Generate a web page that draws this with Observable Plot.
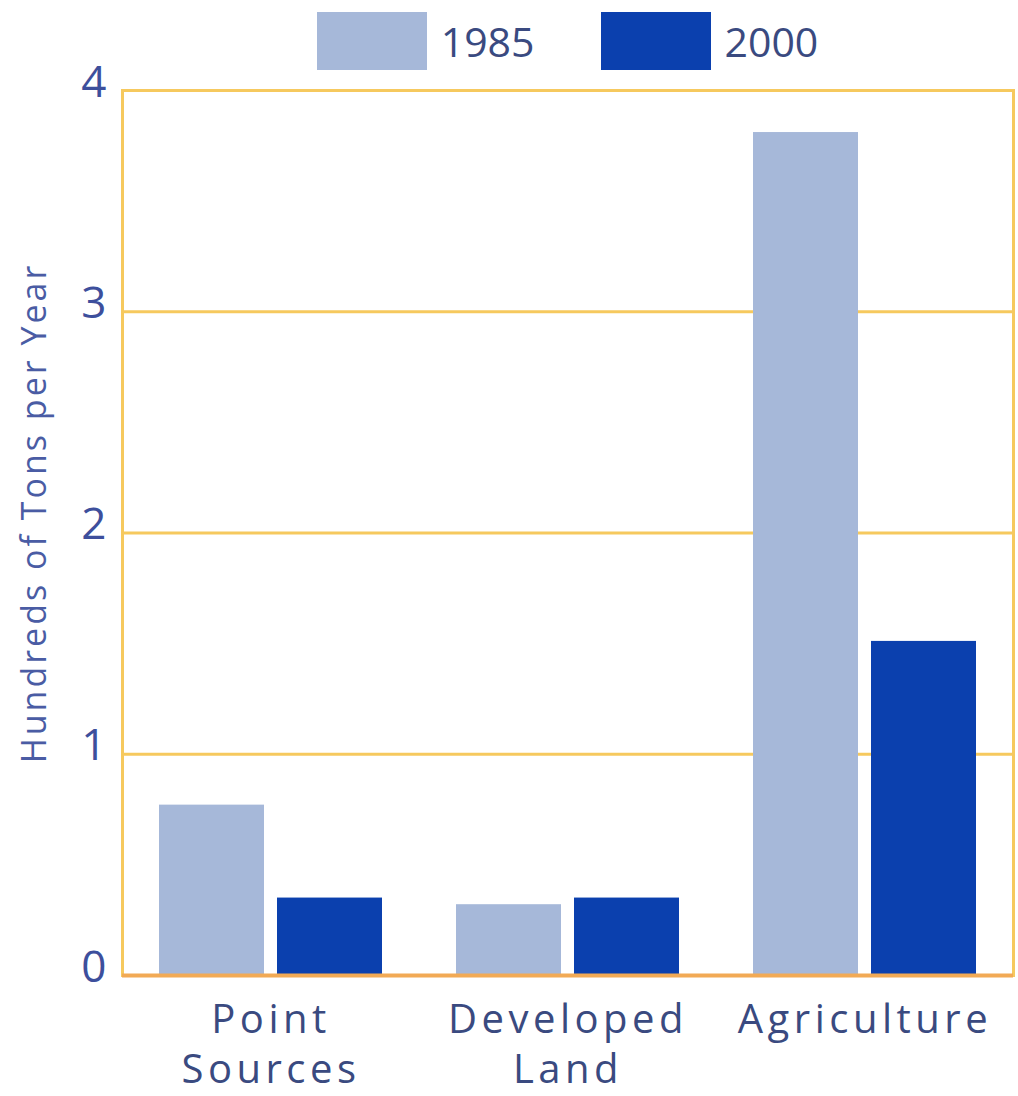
<!DOCTYPE html>
<html>
<head>
<meta charset="utf-8">
<script src="https://cdn.jsdelivr.net/npm/d3@7"></script>
<script src="https://cdn.jsdelivr.net/npm/@observablehq/plot@0.6"></script>
<style>
  html, body { margin: 0; padding: 0; background: #ffffff; }
  #wrap { position: relative; width: 1018px; height: 1096px; font-family: "Open Sans", sans-serif; }
  #legend { position: absolute; top: 12px; left: 122px; width: 891px; display: flex; justify-content: center; align-items: center; gap: 66px; }
  #legend .item { display: flex; align-items: center; }
  #legend .sw { width: 110px; height: 58px; }
  #legend .lab { margin-left: 14px; font-size: 41px; color: #3a4a80; line-height: 1; }
  .chart [aria-label="fx-axis tick label"] text { letter-spacing: 4.5px; }
  .chart .ylab text { letter-spacing: 3px; }
</style>
</head>
<body>
<div id="wrap"><div id="legend"></div></div>
<script>
// ---- data ----
const categories = ["Point Sources", "Developed Land", "Agriculture"];
const categoryLabels = ["Point\nSources", "Developed\nLand", "Agriculture"];
const years = ["1985", "2000"];
const values1985 = [0.77, 0.32, 3.81];
const values2000 = [0.35, 0.35, 1.51];
const yTicks = [0, 1, 2, 3, 4];
const gridValues = [1, 2, 3];
const yLabel = "Hundreds of Tons per Year";
const colors = ["#a6b8d9", "#0b40ae"];

const table = [];
categories.forEach((c, i) => {
  table.push({category: c, year: years[0], value: values1985[i]});
  table.push({category: c, year: years[1], value: values2000[i]});
});
const labelOf = new Map(categories.map((c, i) => [c, categoryLabels[i]]));

const gold = "#f6c95e";
const orange = "#f2aa55";

const chart = Plot.plot({
  width: 1018,
  height: 1096,
  marginLeft: 122,
  marginRight: 5,
  marginTop: 90,
  marginBottom: 121,
  className: "chart",
  style: {fontFamily: "Open Sans, sans-serif", background: "transparent", overflow: "visible"},
  fx: {domain: categories, padding: 0, axis: null},
  x: {domain: years, paddingInner: 0.11, paddingOuter: 0.31, axis: null},
  y: {domain: [0, 4], axis: null},
  color: {domain: years, range: colors},
  marks: [
    Plot.ruleY(gridValues, {y: d => d, stroke: gold, strokeWidth: 3}),
    Plot.ruleY([4], {y: d => d, stroke: gold, strokeWidth: 3}),
    Plot.frame({stroke: gold, strokeWidth: 3, facet: "super"}),
    Plot.barY(table, {fx: "category", x: "year", y: "value", fill: "year"}),
    Plot.ruleY([0], {y: d => d, stroke: orange, strokeWidth: 4}),
    Plot.axisY({ticks: yTicks, tickFormat: d3.format("d"), tickSize: 0, tickPadding: 16, fontSize: 44, dy: -8, label: null, color: "#3d4f9c"}),
    Plot.axisFx({anchor: "bottom", tickSize: 0, tickPadding: 21, fontSize: 40, lineHeight: 1.27, lineAnchor: "top", label: null, color: "#3a4a80", tickFormat: d => labelOf.get(d)}),
    Plot.text([yLabel], {frameAnchor: "left", textAnchor: "middle", rotate: -90, dx: -87, dy: -20, fontSize: 34, fill: "#4a5ca4", facet: "super", className: "ylab"})
  ]
});
document.getElementById("wrap").prepend(chart);

// legend built from the same arrays
const legend = document.getElementById("legend");
years.forEach((y, i) => {
  const item = document.createElement("div");
  item.className = "item";
  const sw = document.createElement("div");
  sw.className = "sw";
  sw.style.background = colors[i];
  const lab = document.createElement("span");
  lab.className = "lab";
  lab.textContent = y;
  item.appendChild(sw);
  item.appendChild(lab);
  legend.appendChild(item);
});
</script>
</body>
</html>
